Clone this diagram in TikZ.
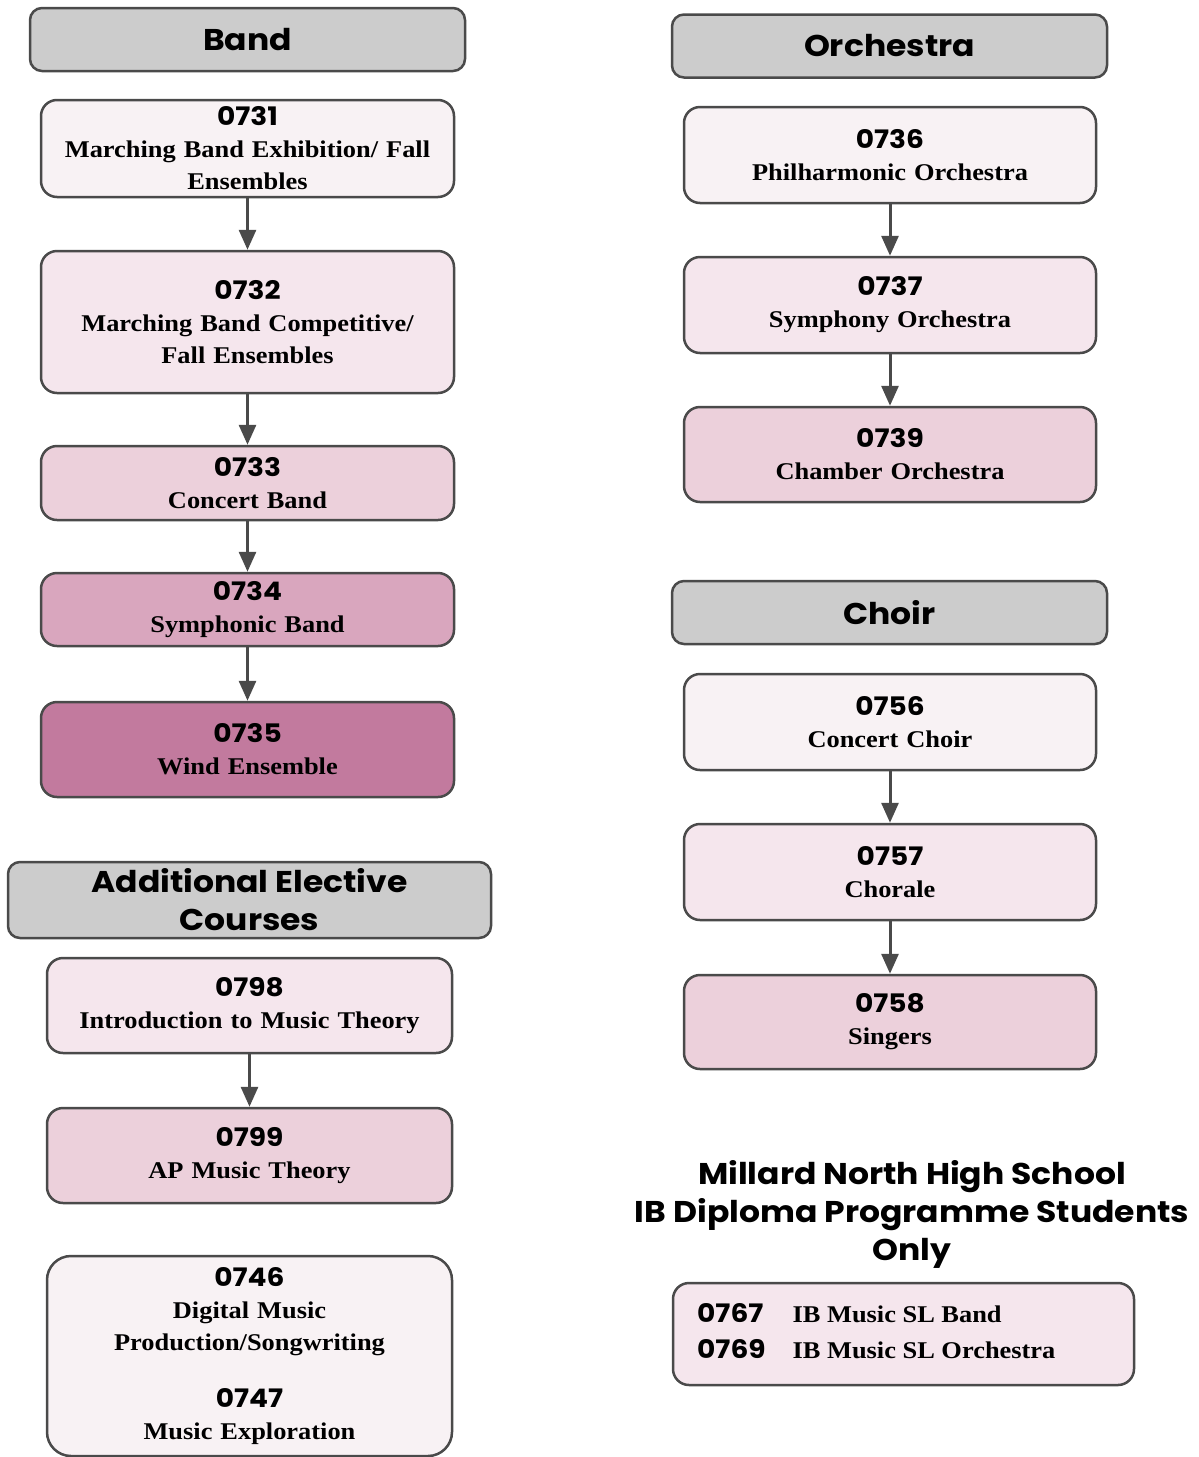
\documentclass[tikz,border=0pt]{standalone}
\usepackage{fontspec}
\setmainfont{Liberation Serif}[FakeStretch=1.1]
\newfontfamily\headfont{Poppins}[FakeStretch=1.1]
\usetikzlibrary{arrows.meta}

\definecolor{hdgray}{HTML}{CCCCCC}
\definecolor{edgegray}{HTML}{4A4A4A}
\definecolor{pinkA}{HTML}{F8F2F4}
\definecolor{pinkB}{HTML}{F5E6ED}
\definecolor{pinkC}{HTML}{ECD0DB}
\definecolor{pinkD}{HTML}{D9A6BE}
\definecolor{pinkE}{HTML}{C27A9E}

\newcommand{\cnum}[1]{{\headfont\bfseries\fontsize{25.5}{32}\selectfont #1}}

\tikzset{
  header/.style={draw=edgegray, fill=hdgray, line width=2.5pt, rounded corners=12pt,
    minimum width=435pt, minimum height=63pt, inner sep=0pt, align=center,
    font=\headfont\bfseries\fontsize{30}{38}\selectfont},
  course/.style={draw=edgegray, line width=2.5pt, rounded corners=16pt,
    minimum width=413pt, inner sep=0pt, align=center, text width=405pt,
    font=\bfseries\fontsize{24}{32}\selectfont},
  arr/.style={draw=edgegray, line width=3pt, -{Triangle[width=17pt,length=20pt]}}
}

\begin{document}
\begin{tikzpicture}[x=1pt,y=-1pt]
  \useasboundingbox (0,0) rectangle (1199,1457);

  % Band
  \node[header] (band) at (247.5,39.5) {Band};
  \node[course,fill=pinkA,minimum height=97pt] (c0731) at (247.5,148.5)
    {\cnum{0731}\\ Marching Band Exhibition/ Fall\\ Ensembles};
  \node[course,fill=pinkB,minimum height=142pt] (c0732) at (247.5,322)
    {\cnum{0732}\\ Marching Band Competitive/\\ Fall Ensembles};
  \node[course,fill=pinkC,minimum height=74pt] (c0733) at (247.5,483)
    {\cnum{0733}\\ Concert Band};
  \node[course,fill=pinkD,minimum height=73pt] (c0734) at (247.5,609.5)
    {\cnum{0734}\\ Symphonic Band};
  \node[course,fill=pinkE,minimum height=95pt] (c0735) at (247.5,749.5)
    {\cnum{0735}\\ Wind Ensemble};
  \draw[arr] (c0731) -- (c0732);
  \draw[arr] (c0732) -- (c0733);
  \draw[arr] (c0733) -- (c0734);
  \draw[arr] (c0734) -- (c0735);

  % Orchestra
  \node[header] (orch) at (889.5,46) {Orchestra};
  \node[course,fill=pinkA,minimum height=96pt,minimum width=412pt] (c0736) at (890,155)
    {\cnum{0736}\\ Philharmonic Orchestra};
  \node[course,fill=pinkB,minimum height=96pt,minimum width=412pt] (c0737) at (890,305)
    {\cnum{0737}\\ Symphony Orchestra};
  \node[course,fill=pinkC,minimum height=95pt,minimum width=412pt] (c0739) at (890,454.5)
    {\cnum{0739}\\ Chamber Orchestra};
  \draw[arr] (c0736) -- (c0737);
  \draw[arr] (c0737) -- (c0739);

  % Choir
  \node[header] (choir) at (889.5,612.5) {Choir};
  \node[course,fill=pinkA,minimum height=96pt,minimum width=412pt] (c0756) at (890,722)
    {\cnum{0756}\\ Concert Choir};
  \node[course,fill=pinkB,minimum height=96pt,minimum width=412pt] (c0757) at (890,872)
    {\cnum{0757}\\ Chorale};
  \node[course,fill=pinkC,minimum height=94pt,minimum width=412pt] (c0758) at (890,1022)
    {\cnum{0758}\\ Singers};
  \draw[arr] (c0756) -- (c0757);
  \draw[arr] (c0757) -- (c0758);

  % Additional electives
  \node[header,minimum width=483pt,minimum height=76pt] (elect) at (249.5,900)
    {Additional Elective\\ Courses};
  \node[course,fill=pinkB,minimum height=95pt,minimum width=405pt] (c0798) at (249.5,1005.5)
    {\cnum{0798}\\ Introduction to Music Theory};
  \node[course,fill=pinkC,minimum height=95pt,minimum width=405pt] (c0799) at (249.5,1155.5)
    {\cnum{0799}\\ AP Music Theory};
  \node[course,fill=pinkA,minimum height=200pt,minimum width=405pt,rounded corners=24pt] (c0746) at (249.5,1356)
    {\cnum{0746}\\ Digital Music\\ Production/Songwriting\\[25pt] \cnum{0747}\\ Music Exploration};
  \draw[arr] (c0798) -- (c0799);

  % IB
  \node[align=center,font=\headfont\bfseries\fontsize{30}{38}\selectfont] (ibtitle) at (912,1214)
    {Millard North High School\\ IB Diploma Programme Students\\ Only};
  \node[draw=edgegray,fill=pinkB,line width=2.5pt,rounded corners=16pt,
    minimum width=461pt,minimum height=102pt] (ibbox) at (903.5,1334) {};
  \node[anchor=west,inner sep=0pt,font=\bfseries\fontsize{24}{36}\selectfont] (iblist) at (697,1333)
    {\begin{tabular}{@{}l@{\hspace{27pt}}l@{}}
      \cnum{0767} & IB Music SL Band\\
      \cnum{0769} & IB Music SL Orchestra
    \end{tabular}};
\end{tikzpicture}
\end{document}
